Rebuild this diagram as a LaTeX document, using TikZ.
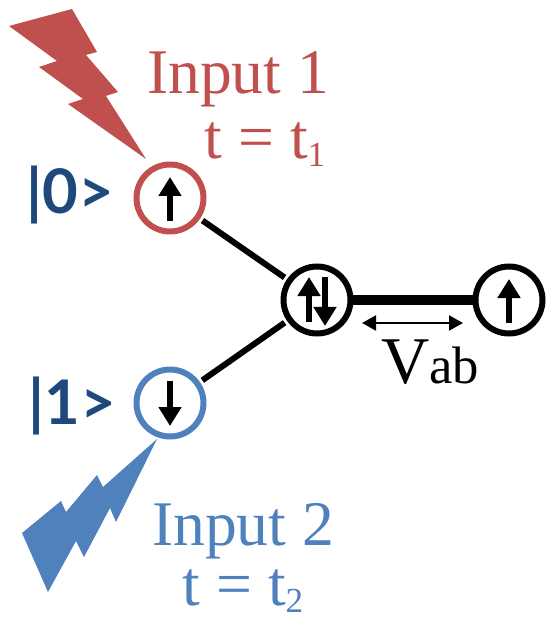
\documentclass[tikz,border=0pt]{standalone}
\usepackage{fontspec}
\setmainfont{Liberation Serif}
\newfontfamily\ketfont{Lato}
\usetikzlibrary{arrows.meta}
\definecolor{inputred}{HTML}{C0504D}
\definecolor{inputblue}{HTML}{4F81BD}
\definecolor{ketblue}{HTML}{1F497D}
\newcommand{\subdigit}[1]{\raisebox{-0.12em}{\fontsize{20}{20}\selectfont #1}}
\tikzset{
  site/.style={circle, draw=black, line width=0.12cm, minimum size=1.34cm, inner sep=0pt},
  spin/.style={-{Triangle[length=0.38cm,width=0.44cm]}, line width=0.11cm, black},
  label big/.style={anchor=base, font=\fontsize{36.2}{36}\selectfont},
  ket/.style={anchor=base west, ketblue, font=\ketfont\bfseries\fontsize{35}{35}\selectfont},
}
\begin{document}
\begin{tikzpicture}[x=0.02cm,y=-0.02cm]
            \useasboundingbox (0,0) rectangle (551,621);

            \fill[inputred] (9,26) -- (72,9) -- (97,52) -- (86,55) -- (118,92) -- (106,96) -- (146,159)
                -- (68,104) -- (83,99) -- (39,67) -- (57,61) -- cycle;
            \fill[inputblue] (157,439) -- (103,487) -- (97,475) -- (66,512) -- (61,501) -- (22,533)
                -- (48,592) -- (76,541) -- (84,557) -- (110,508) -- (116,522) -- cycle;

            \node[site, draw=inputred] (siteA) at (170,198) {};
            \node[site, draw=inputblue] (siteB) at (170,403) {};
            \node[site] (siteC) at (317,300) {};
            \node[site] (siteD) at (509,300) {};

            \draw[line width=0.12cm, shorten <=0.06cm, shorten >=0.06cm] (siteA) -- (siteC);
            \draw[line width=0.12cm, shorten <=0.06cm, shorten >=0.06cm] (siteB) -- (siteC);
            \draw[line width=0.2cm] (siteC) -- (siteD);

            \draw[spin] ([yshift=-0.46cm]siteA.center) -- ([yshift=0.42cm]siteA.center);
            \draw[spin] ([yshift=0.44cm]siteB.center) -- ([yshift=-0.46cm]siteB.center);
            \draw[spin] ([xshift=-0.16cm,yshift=-0.44cm]siteC.center) -- ([xshift=-0.16cm,yshift=0.46cm]siteC.center);
            \draw[spin] ([xshift=0.16cm,yshift=0.46cm]siteC.center) -- ([xshift=0.16cm,yshift=-0.52cm]siteC.center);
            \draw[spin] ([yshift=-0.46cm]siteD.center) -- ([yshift=0.42cm]siteD.center);

            \coordinate (vabL) at (362,323);
            \coordinate (vabR) at (463,323);
            \draw[{Triangle[length=0.28cm,width=0.3cm]}-{Triangle[length=0.28cm,width=0.3cm]}, line width=0.04cm] (vabL) -- (vabR);

            \node[label big, inputred] (inputA) at (238,94) {Input 1};
            \node[label big, inputred] (timeA) at (265,159) {t = t\subdigit{1}};
            \node[label big, inputblue] (inputB) at (243,545) {Input 2};
            \node[label big, inputblue] (timeB) at (243,605) {t = t\subdigit{2}};
            \node[anchor=base west, inner sep=0pt] (vab) at (381,383) {\fontsize{38}{38}\selectfont V\fontsize{30}{30}\selectfont ab};

            \node[ket, inner sep=0pt] (ketA) at (26,214) {|0>};
            \node[ket, inner sep=0pt] (ketB) at (28,424) {|1>};
        \end{tikzpicture}
\end{document}
